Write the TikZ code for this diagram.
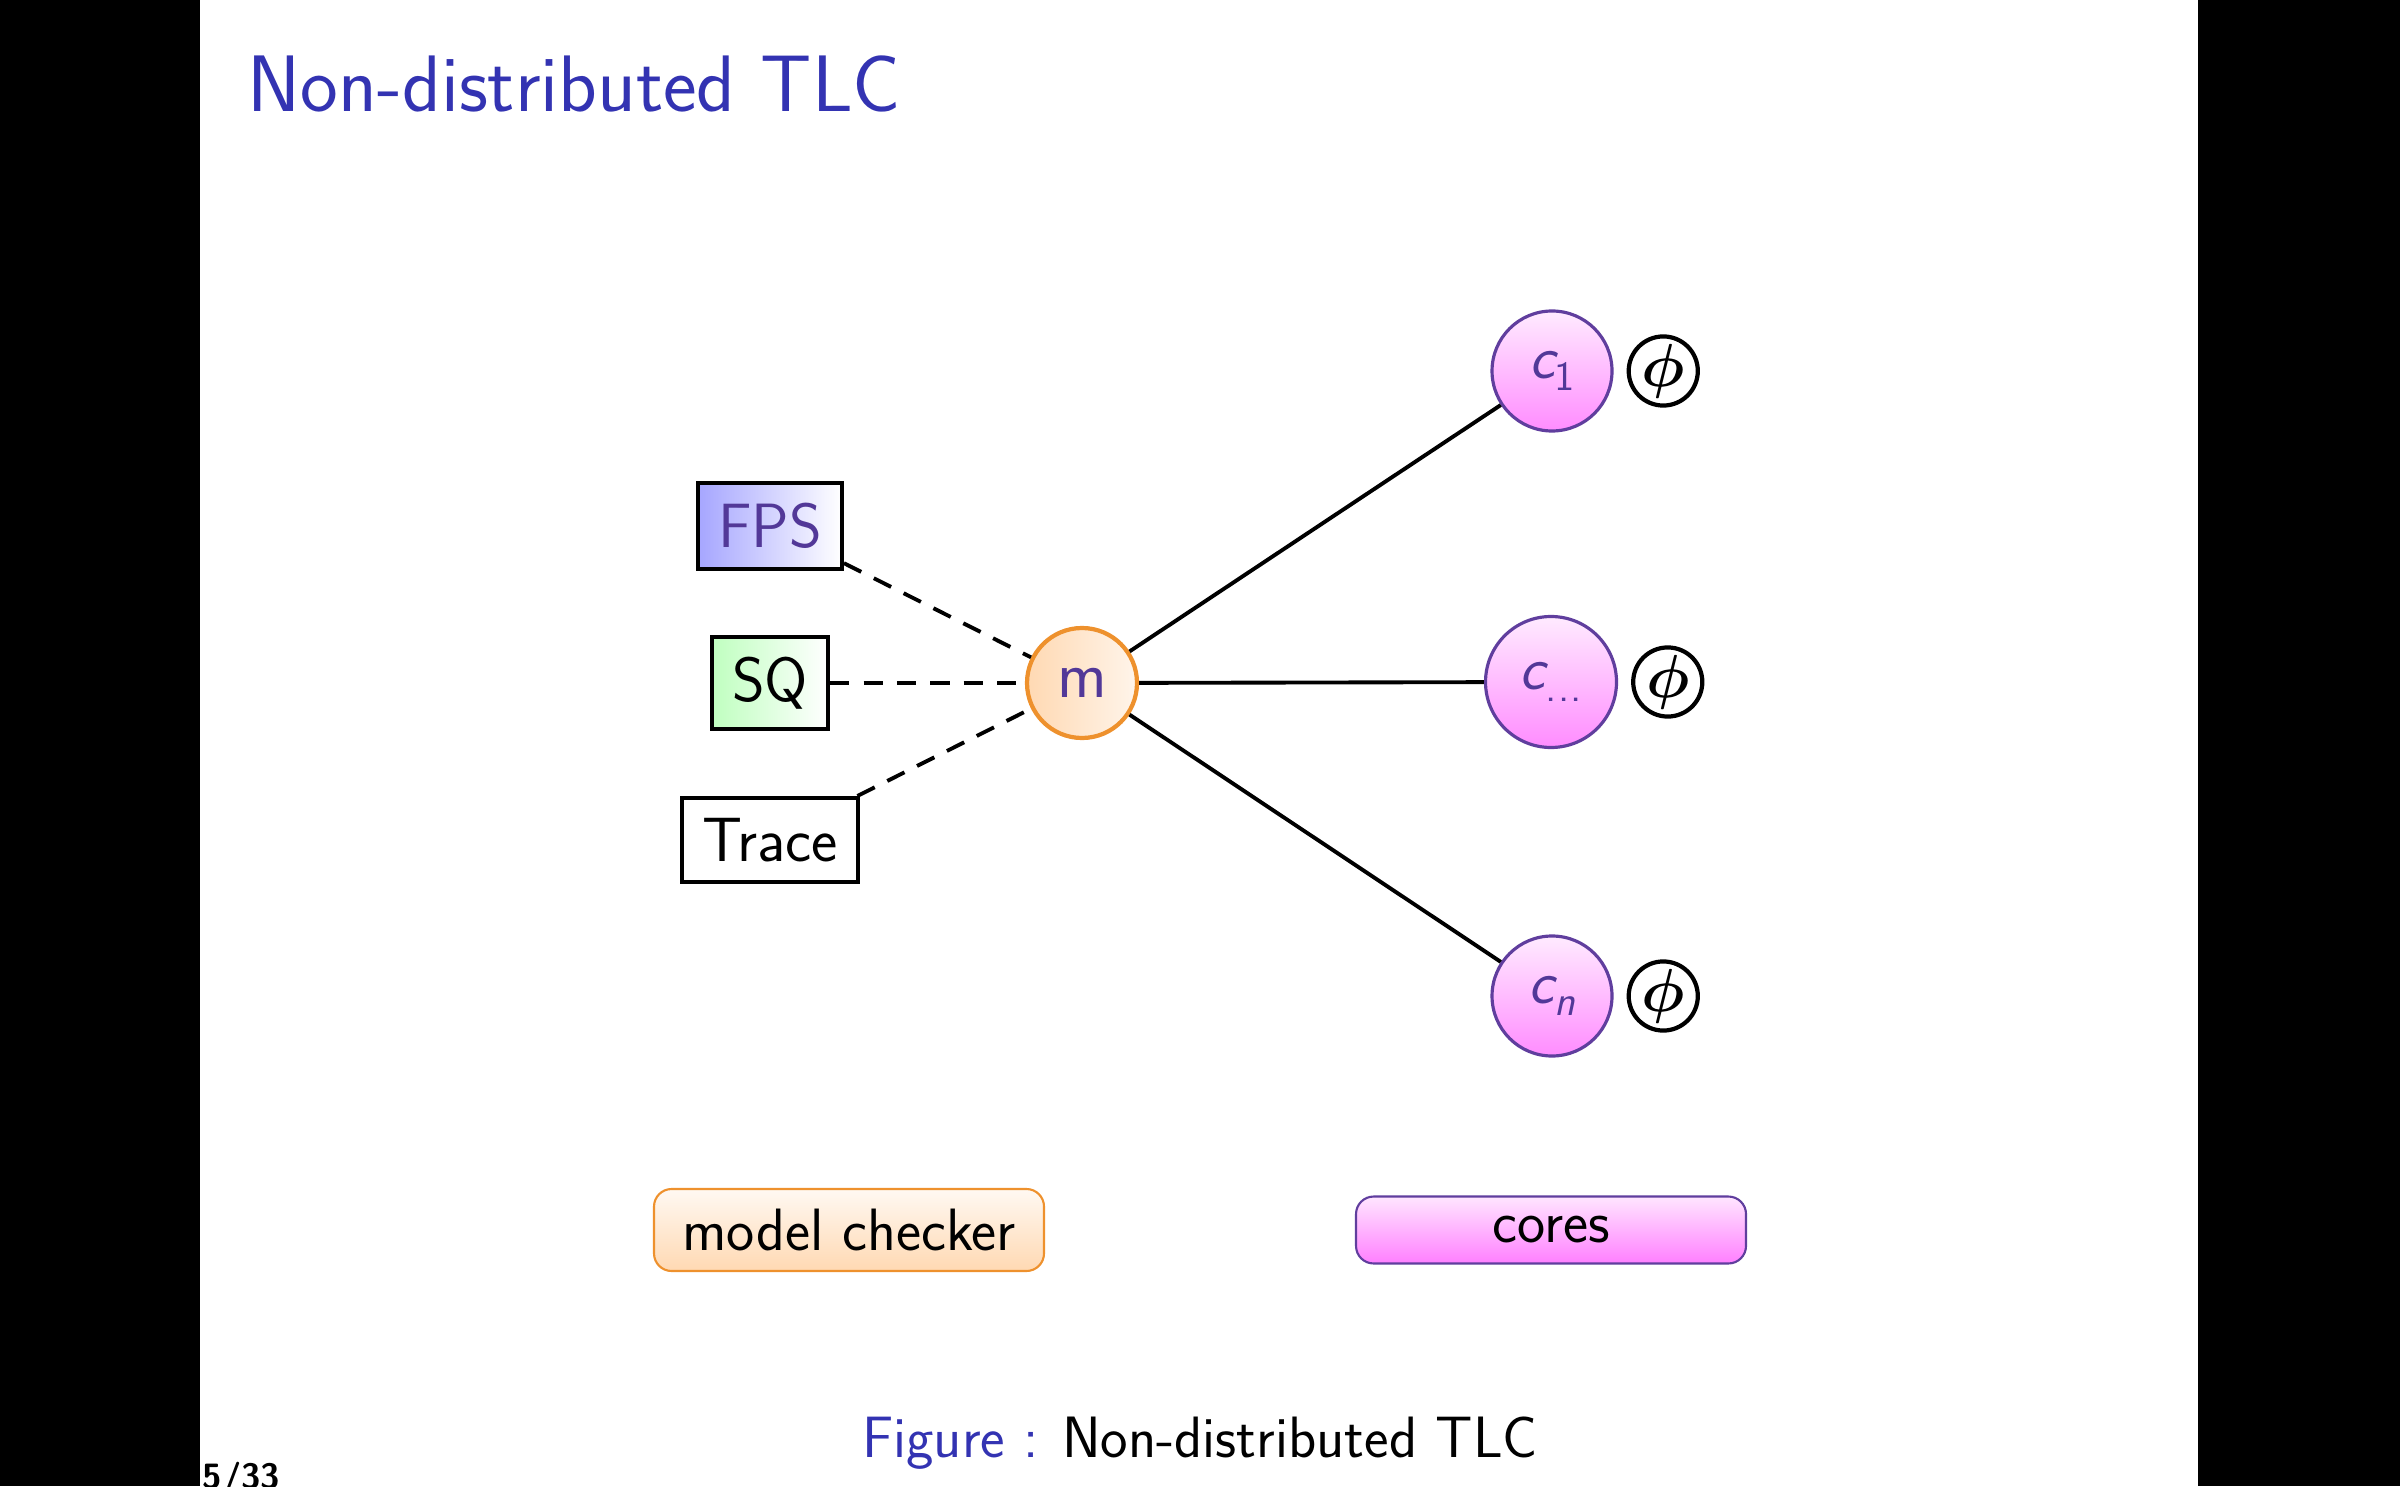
\documentclass[tikz,border=0pt]{standalone}
\usepackage{amsmath}
\usetikzlibrary{positioning}
\definecolor{structblue}{rgb}{0.2,0.2,0.7}
\definecolor{nodetext}{RGB}{82,56,152}
\definecolor{mcorange}{RGB}{238,145,45}
\definecolor{coreviolet}{RGB}{96,62,158}
\newcommand{\bodysize}{\fontsize{17}{20}\selectfont}
\newcommand{\cvar}[1]{{\slshape c}\raisebox{-3.2pt}{\fontsize{11.8}{14}\selectfont #1}}
\tikzset{
  store/.style={draw=black,line width=1.2pt,inner sep=5.7pt,font=\fontsize{17.8}{21}\selectfont\sffamily},
  mc/.style={circle,draw=mcorange,line width=1.2pt,left color=orange!30,right color=orange!8,
             minimum size=1.1cm,inner sep=0pt,text=nodetext,font=\fontsize{19}{22}\selectfont\sffamily},
  core/.style={circle,draw=coreviolet,line width=0.9pt,top color=magenta!8,bottom color=magenta!45,
               minimum size=1.2cm,inner sep=1pt,text=nodetext,font=\fontsize{17.5}{20}\selectfont\sffamily},
  prop/.style={circle,draw=black,line width=1.2pt,minimum size=0.69cm,inner sep=0pt,font=\bodysize},
  link/.style={draw=black,line width=1.1pt},
  weak/.style={link,dash pattern=on 5.5pt off 4pt},
  legendbox/.style={rounded corners=5pt,line width=0.6pt,minimum width=3.9cm,inner xsep=4pt,inner ysep=5.7pt,
                    font=\bodysize\sffamily},
}

\begin{document}
\begin{tikzpicture}
  \useasboundingbox (0,0) rectangle (24,14.86);
  % screen borders left and right of the slide
  \fill[black] (0,0) rectangle (2.0,14.86);
  \fill[black] (21.98,0) rectangle (24,14.86);

  \node[anchor=base west,inner sep=0pt,text=structblue,font=\fontsize{22.8}{27}\selectfont\sffamily] (title) at (2.47,13.74) {Non-distributed TLC};

  % inputs of the model checker
  \node[store,left color=blue!35,right color=white,text=nodetext] (fps) at (7.70,9.60) {FPS};
  \node[store,left color=green!25,right color=white] (sq) at (7.70,8.03) {SQ};
  \node[store] (trace) at (7.70,6.46) {Trace};
  \node[mc] (m) at (10.82,8.03) {m};

  % cores, each one with its property
  \node[core] (c1) at (15.52,11.15) {\cvar{1}};
  \node[core,minimum size=1.31cm] (cdots) at (15.51,8.04) {\cvar{.\kern0.4pt.\kern0.4pt.}};
  \node[core] (cn) at (15.52,4.90) {\cvar{\slshape n}};
  \foreach \c in {c1,cdots,cn}{\node[prop,right=1.3mm of \c] (phi\c) {$\boldsymbol{\phi}$};}

  \foreach \s in {fps,sq,trace}{\draw[weak] (\s)--(m);}
  \foreach \c in {c1,cdots,cn}{\draw[link] (m)--(\c);}

  % legend
  \node[legendbox,draw=mcorange,top color=orange!5,bottom color=orange!30] (mclegend) at (8.49,2.56) {model checker};
  \node[legendbox,draw=coreviolet,top color=magenta!10,bottom color=magenta!50] (corelegend) at (15.51,2.56) {cores};

  \node[anchor=base,inner sep=0pt,font=\fontsize{16.6}{19}\selectfont\sffamily] (caption) at (12.0,0.29)
       {\textcolor{structblue}{Figure :}\hspace{0.4em}Non-distributed TLC};
  \node[anchor=base west,inner sep=0pt,font=\fontsize{10}{12}\selectfont\sffamily\bfseries] (pageno) at (2.02,-0.02) {5/33};
\end{tikzpicture}
\end{document}
